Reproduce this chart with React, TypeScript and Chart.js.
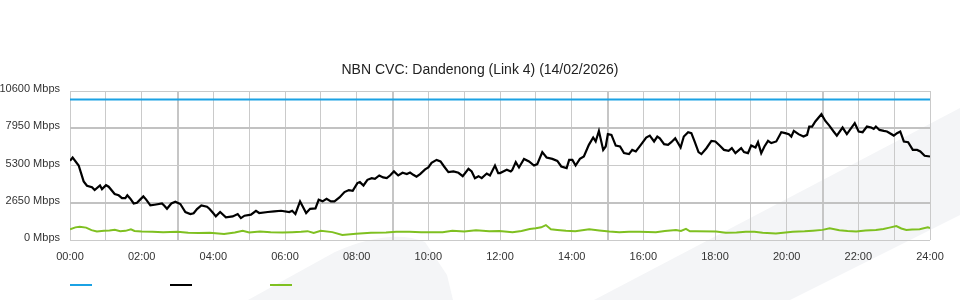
import React, { useEffect, useRef } from "react";
import { Chart, registerables } from "chart.js";

Chart.register(...registerables);

const TITLE = "NBN CVC: Dandenong (Link 4) (14/02/2026)";
const Y_TICKS = [0, 2650, 5300, 7950, 10600];
const X_LABEL_HOURS = [0, 2, 4, 6, 8, 10, 12, 14, 16, 18, 20, 22, 24];

const capacityTimes = [0, 24];
const capacityValues = [10000, 10000];

const trafficTimes = [
  0.0, 0.074, 0.242, 0.381, 0.474, 0.614, 0.688, 0.837, 0.893, 1.005, 1.079, 1.247, 1.358, 1.451, 1.544, 1.6, 1.684, 1.777, 1.87, 1.963,
  2.047, 2.121, 2.242, 2.363, 2.567, 2.633, 2.707, 2.828, 2.94, 3.079, 3.219, 3.358, 3.451, 3.544, 3.665, 3.823, 3.89, 4.0, 4.07, 4.19,
  4.35, 4.54, 4.68, 4.77, 4.87, 5.05, 5.19, 5.28, 5.52, 5.7, 5.89, 6.12, 6.2, 6.29, 6.42, 6.59, 6.7, 6.85, 6.94, 7.05,
  7.16, 7.28, 7.38, 7.52, 7.66, 7.78, 7.89, 8.02, 8.09, 8.19, 8.3, 8.42, 8.51, 8.63, 8.74, 8.84, 8.93, 9.04, 9.16, 9.28,
  9.4, 9.49, 9.58, 9.67, 9.77, 9.91, 10.0, 10.09, 10.23, 10.34, 10.44, 10.56, 10.7, 10.84, 10.96, 11.12, 11.21, 11.3, 11.4, 11.49,
  11.63, 11.72, 11.86, 11.95, 12.0, 12.09, 12.19, 12.3, 12.34, 12.44, 12.53, 12.67, 12.81, 12.95, 13.04, 13.18, 13.3, 13.46, 13.6, 13.71,
  13.86, 13.93, 14.02, 14.11, 14.23, 14.34, 14.48, 14.6, 14.67, 14.76, 14.88, 14.95, 15.01, 15.11, 15.23, 15.35, 15.46, 15.6, 15.69, 15.79,
  15.93, 16.08, 16.18, 16.3, 16.39, 16.46, 16.58, 16.69, 16.78, 16.89, 17.04, 17.13, 17.25, 17.34, 17.43, 17.54, 17.62, 17.76, 17.9, 18.01,
  18.13, 18.25, 18.38, 18.47, 18.57, 18.73, 18.81, 18.92, 19.01, 19.13, 19.2, 19.29, 19.38, 19.48, 19.57, 19.71, 19.85, 19.96, 20.06, 20.13,
  20.2, 20.33, 20.47, 20.57, 20.63, 20.71, 20.8, 20.97, 21.08, 21.19, 21.31, 21.4, 21.56, 21.68, 21.9, 22.01, 22.12, 22.24, 22.36, 22.43,
  22.49, 22.59, 22.71, 22.8, 22.99, 23.08, 23.17, 23.27, 23.39, 23.52, 23.64, 23.73, 23.85, 24.0,
];
const trafficValues = [
  5630, 5870, 5300, 4170, 3860, 3750, 3550, 3880, 3620, 3900, 3790, 3270, 3180, 2980, 2980, 3180, 2940, 2600, 2650, 2890,
  3100, 2890, 2460, 2510, 2600, 2440, 2220, 2600, 2720, 2560, 1990, 1850, 1900, 2200, 2460, 2370, 2220, 1900, 1680, 1990,
  1610, 1680, 1850, 1560, 1730, 1800, 2080, 1920, 1990, 2040, 2080, 1990, 2080, 1850, 2750, 1920, 2220, 2250, 2860, 2750,
  2930, 2750, 2750, 3030, 3410, 3550, 3500, 4050, 4120, 3880, 4280, 4400, 4350, 4590, 4450, 4400, 4590, 4880, 4590, 4780,
  4690, 4800, 4640, 4500, 4690, 5020, 5160, 5490, 5700, 5590, 5230, 4830, 4880, 4780, 4540, 5060, 4880, 4400, 4540, 4400,
  4730, 4590, 5300, 4760, 4760, 4880, 5000, 4880, 4970, 5540, 5160, 5770, 5590, 5300, 5400, 6250, 5870, 5770, 5630, 5230,
  5110, 5700, 5700, 5300, 5770, 5940, 6770, 7290, 7010, 7760, 6410, 6650, 7530, 7480, 6720, 6650, 6180, 6110, 6410, 6300,
  6770, 7290, 7430, 7010, 7360, 7240, 6820, 6770, 6960, 7240, 6580, 7360, 7670, 7600, 7010, 6250, 6110, 6530, 7050, 7010,
  6720, 6410, 6340, 6530, 6180, 6530, 6250, 6180, 6720, 6580, 6960, 6180, 6650, 7050, 6890, 7010, 7670, 7600, 7530, 7360,
  7760, 7530, 7360, 7480, 8070, 8070, 8430, 8950, 8470, 8140, 7720, 7430, 8000, 7530, 8310, 7720, 7670, 8070, 8000, 7900,
  8070, 7830, 7760, 7720, 7430, 7600, 7720, 7010, 6960, 6410, 6410, 6300, 5990, 5940,
];

const uploadTimes = [
  0.0, 0.15, 0.27, 0.45, 0.6, 0.75, 0.95, 1.1, 1.25, 1.4, 1.55, 1.7, 1.8, 2.0, 2.3, 2.6, 3.0, 3.3, 3.6, 3.9,
  4.3, 4.6, 4.82, 5.0, 5.3, 5.6, 5.93, 6.2, 6.45, 6.63, 6.8, 7.0, 7.32, 7.6, 7.98, 8.4, 8.82, 9.1, 9.47, 9.8,
  10.1, 10.4, 10.67, 11.0, 11.33, 11.7, 11.98, 12.35, 12.6, 12.83, 13.0, 13.15, 13.28, 13.42, 13.6, 13.84, 14.1, 14.49, 14.77, 15.05,
  15.33, 15.6, 15.89, 16.35, 16.6, 16.91, 17.05, 17.19, 17.3, 17.47, 18.03, 18.3, 18.6, 18.86, 19.1, 19.33, 19.7, 20.17, 20.5, 20.73,
  21.0, 21.2, 21.47, 21.7, 21.94, 22.2, 22.49, 22.7, 22.87, 23.06, 23.2, 23.34, 23.5, 23.71, 23.94, 24.0,
];
const uploadValues = [
  760, 900, 950, 880, 700, 600, 650, 680, 720, 620, 650, 760, 640, 600, 590, 560, 580, 520, 500, 520,
  430, 540, 660, 540, 600, 560, 540, 560, 580, 630, 500, 650, 560, 360, 440, 520, 540, 580, 590, 560,
  560, 560, 660, 600, 690, 620, 640, 560, 640, 780, 830, 900, 1060, 760, 720, 660, 620, 760, 680, 600,
  560, 580, 590, 560, 640, 710, 640, 790, 620, 615, 610, 520, 540, 590, 590, 520, 470, 590, 620, 660,
  720, 830, 700, 640, 600, 680, 710, 780, 880, 990, 820, 710, 740, 760, 900, 840,
];

const FONT = '"Liberation Sans", Arial, sans-serif';
const BLUE = "#1ba2e4";
const BLACK = "#000000";
const GREEN = "#7fc021";

const toPoints = (xs: number[], ys: number[]) => xs.map((x, i) => ({ x, y: ys[i] }));

const decorPlugin = {
  id: "decor",
  beforeDraw(chart: any) {
    const { ctx, width, height } = chart;
    ctx.save();
    ctx.fillStyle = "#ffffff";
    ctx.fillRect(0, 0, width, height);
    ctx.fillStyle = "#f4f5f7";
    ctx.beginPath();
    ctx.moveTo(594, 300);
    ctx.lineTo(960, 108);
    ctx.lineTo(960, 215);
    ctx.lineTo(790, 300);
    ctx.closePath();
    ctx.fill();
    ctx.beginPath();
    ctx.moveTo(248, 300);
    ctx.lineTo(335, 252);
    ctx.quadraticCurveTo(390, 228, 425, 242);
    ctx.lineTo(447, 275);
    ctx.lineTo(453, 300);
    ctx.closePath();
    ctx.fill();
    ctx.restore();
  },
  afterDraw(chart: any) {
    const { ctx, chartArea } = chart;
    ctx.save();
    ctx.fillStyle = "#222222";
    ctx.font = `14px ${FONT}`;
    ctx.textAlign = "center";
    ctx.textBaseline = "middle";
    ctx.fillText(TITLE, 480, 70);
    const colors = [BLUE, BLACK, GREEN];
    ctx.lineWidth = 2;
    colors.forEach((c, i) => {
      const x0 = chartArea.left + i * 100;
      ctx.strokeStyle = c;
      ctx.beginPath();
      ctx.moveTo(x0, 285);
      ctx.lineTo(x0 + 22, 285);
      ctx.stroke();
    });
    ctx.restore();
  },
};

export default function App() {
  const ref = useRef<HTMLCanvasElement | null>(null);

  useEffect(() => {
    if (!ref.current) return;
    const chart = new Chart(ref.current, {
      type: "line",
      data: {
        datasets: [
          {
            label: "",
            data: toPoints(capacityTimes, capacityValues),
            borderColor: BLUE,
            borderWidth: 2,
            pointRadius: 0,
            tension: 0,
          },
          {
            label: "",
            data: toPoints(trafficTimes, trafficValues),
            borderColor: BLACK,
            borderWidth: 2.2,
            pointRadius: 0,
            tension: 0,
          },
          {
            label: "",
            data: toPoints(uploadTimes, uploadValues),
            borderColor: GREEN,
            borderWidth: 2,
            pointRadius: 0,
            tension: 0,
          },
        ],
      },
      options: {
        responsive: false,
        animation: false,
        layout: { padding: { left: 0, right: 30, top: 91, bottom: 0 } },
        plugins: {
          legend: { display: false },
          title: { display: false },
          tooltip: { enabled: false },
        },
        scales: {
          x: {
            type: "linear",
            min: 0,
            max: 24,
            afterFit: (s: any) => {
              s.height = 60;
            },
            afterBuildTicks: (s: any) => {
              s.ticks = Array.from({ length: 25 }, (_, h) => ({ value: h }));
            },
            grid: {
              drawTicks: false,
              color: (c: any) => ([3, 9, 15, 21].includes(c.tick?.value) ? "#c6c6c6" : "#cacaca"),
              lineWidth: (c: any) => ([3, 9, 15, 21].includes(c.tick?.value) ? 2 : 1),
            },
            border: { display: false },
            ticks: {
              autoSkip: false,
              maxRotation: 0,
              padding: 10,
              color: "#333333",
              font: { family: FONT, size: 11 },
              callback: (v: any) =>
                X_LABEL_HOURS.includes(Number(v)) ? `${String(v).padStart(2, "0")}:00` : "",
            },
          },
          y: {
            min: 0,
            max: 10600,
            afterFit: (s: any) => {
              s.width = 70;
            },
            afterBuildTicks: (s: any) => {
              s.ticks = Y_TICKS.map((v) => ({ value: v }));
            },
            grid: {
              drawTicks: false,
              color: (c: any) => ([2650, 7950].includes(c.tick?.value) ? "#c2c2c2" : "#cacaca"),
              lineWidth: (c: any) => ([2650, 7950].includes(c.tick?.value) ? 2 : 1),
            },
            border: { display: false },
            ticks: {
              padding: 10,
              labelOffset: -2,
              color: "#333333",
              font: { family: FONT, size: 11 },
              callback: (v: any) => `${v} Mbps`,
            },
          },
        },
      },
      plugins: [decorPlugin],
    });
    return () => chart.destroy();
  }, []);

  return (
    <div style={{ position: "absolute", left: 0, top: 0, width: 960, height: 300 }}>
      <canvas ref={ref} width={960} height={300} style={{ width: 960, height: 300, display: "block" }} />
    </div>
  );
}
